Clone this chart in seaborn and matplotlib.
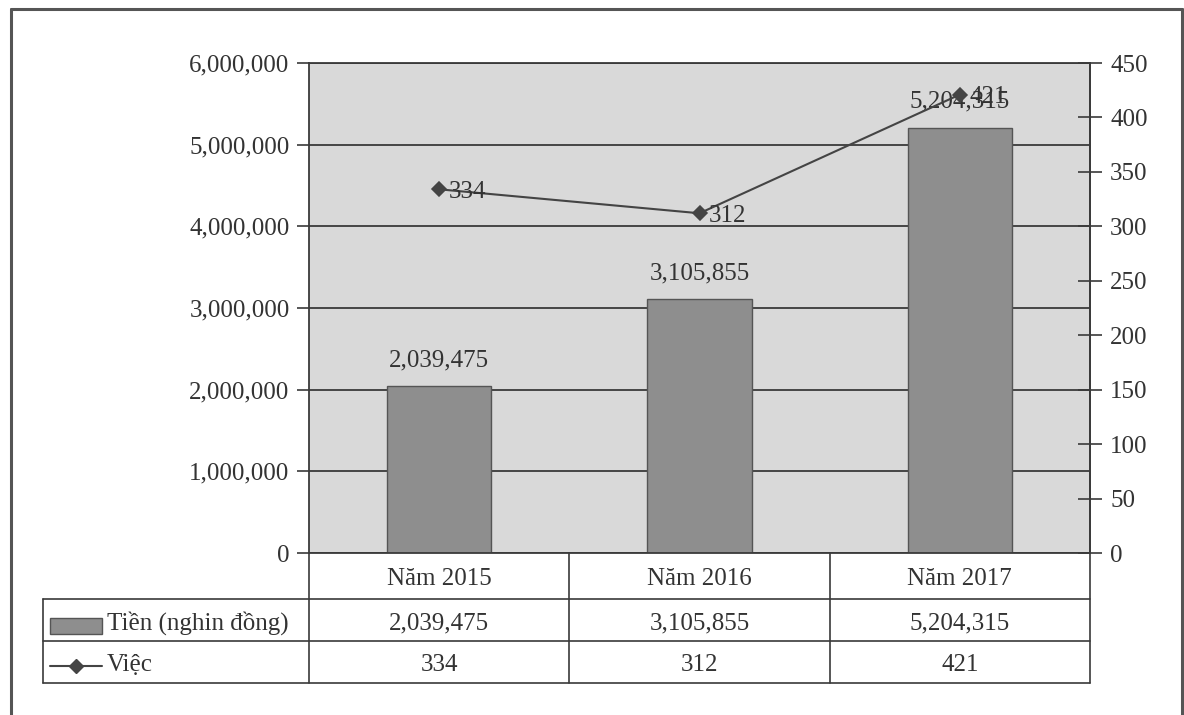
import matplotlib
matplotlib.use("Agg")
import matplotlib.pyplot as plt
import matplotlib.transforms as mtransforms
from matplotlib.lines import Line2D
from matplotlib.patches import Rectangle
import seaborn as sns
import pandas as pd

# data
years = ["Năm 2015", "Năm 2016", "Năm 2017"]
tien = [2039475, 3105855, 5204315]
viec = [334, 312, 421]
series_names = ["Tiền (nghin đồng)", "Việc"]
left_ticks = [0, 1000000, 2000000, 3000000, 4000000, 5000000, 6000000]
right_ticks = [0, 50, 100, 150, 200, 250, 300, 350, 400, 450]

sns.set_style("white")
plt.rcParams["font.family"] = ["Liberation Serif", "DejaVu Serif"]
plt.rcParams["font.size"] = 18

ink = "#3a3a3a"
txt = "#333333"
bg = "#d9d9d9"
bar_col = "#8e8e8e"

df = pd.DataFrame({"year": years, "tien": tien, "viec": viec})

fig = plt.figure(figsize=(11.84, 7.15), dpi=100)
ax = fig.add_axes([309 / 1184, 1 - 553 / 715, 781 / 1184, 490 / 715])
ax.set_facecolor(bg)

sns.barplot(data=df, x="year", y="tien", ax=ax, color=bar_col, saturation=1,
            width=0.4, edgecolor="#555555", linewidth=1)
ax.set_axisbelow(True)
ax.grid(axis="y", color=ink, linewidth=1.3)
ax.set_ylim(0, 6000000)
ax.set_yticks(left_ticks)
ax.set_yticklabels([f"{v:,}" for v in left_ticks], color=txt)
ax.tick_params(axis="y", direction="out", length=9, width=1.2, color=ink, pad=5)
ax.set_xticks([])
ax.set_xlabel("")
ax.set_ylabel("")
for s in ax.spines.values():
    s.set_color(ink)
    s.set_linewidth(1.3)
ax.bar_label(ax.containers[0], labels=[f"{v:,}" for v in tien], padding=11,
             color=txt, fontsize=18)

ax2 = ax.twinx()
sns.pointplot(data=df, x="year", y="viec", ax=ax2, color="#444444",
              markers="D", markersize=7, linewidth=1.5)
ax2.set_ylim(0, 450)
ax2.set_yticks(right_ticks)
ax2.tick_params(axis="y", direction="inout", length=17, width=1.2, color=ink, pad=6,
                labelcolor=txt)
ax2.set_xlabel("")
ax2.set_ylabel("")
ax2.set_xlim(-0.5, len(years) - 0.5)
ax.set_xlim(-0.5, len(years) - 0.5)
for s in ax2.spines.values():
    s.set_visible(False)
ax2.spines["right"].set_visible(True)
ax2.spines["right"].set_color(ink)
ax2.spines["right"].set_linewidth(1.3)
for i, v in enumerate(viec):
    ax2.annotate(str(v), (i, v), xytext=(7, -2), textcoords="offset points",
                 ha="left", va="center", color=txt, fontsize=18)

# data table under the plot
tr = mtransforms.blended_transform_factory(ax.transData, ax.transAxes)
row_y = [0, -46 / 490, -88 / 490, -130 / 490]
left_x = (43 - 309) / 781
lk = dict(color=ink, linewidth=1.2, clip_on=False)
edges = [i - 0.5 for i in range(len(years) + 1)]
for e in edges:
    ax.plot([e, e], [row_y[0], row_y[3]], transform=tr, **lk)
for y in row_y[1:]:
    ax.plot([left_x, 1], [y, y], transform=ax.transAxes, **lk)
ax.plot([left_x, left_x], [row_y[1], row_y[3]], transform=ax.transAxes, **lk)

dy = -3 / 490
mid = [(row_y[k] + row_y[k + 1]) / 2 + dy for k in range(3)]
for i, y in enumerate(years):
    ax.text(i, mid[0], y, transform=tr, ha="center", va="center", color=txt, fontsize=18)
    ax.text(i, mid[1], f"{tien[i]:,}", transform=tr, ha="center", va="center",
            color=txt, fontsize=18)
    ax.text(i, mid[2], f"{viec[i]}", transform=tr, ha="center", va="center",
            color=txt, fontsize=18)

# legend keys inside the table
ax.add_patch(Rectangle(((50 - 309) / 781, (553 - 634) / 490), 52 / 781, 16 / 490,
                       transform=ax.transAxes, facecolor=bar_col, edgecolor="#555555",
                       linewidth=1, clip_on=False))
ax.text((107 - 309) / 781, mid[1], series_names[0],
        transform=ax.transAxes, ha="left", va="center", color=txt, fontsize=18)
ly = (553 - 666) / 490
ax.plot([(50 - 309) / 781, (102 - 309) / 781], [ly, ly], transform=ax.transAxes,
        color="#444444", linewidth=1.5, clip_on=False)
ax.plot([(76 - 309) / 781], [ly], transform=ax.transAxes, marker="D", markersize=7,
        color="#444444", clip_on=False)
ax.text((107 - 309) / 781, mid[2], series_names[1],
        transform=ax.transAxes, ha="left", va="center", color=txt, fontsize=18)

# outer chart frame
fk = dict(color="#555555", linewidth=2.2, transform=fig.transFigure)
x0, x1, yt = 11 / 1184, 1182 / 1184, 1 - 9 / 715
fig.add_artist(Line2D([x0, x1], [yt, yt], **fk))
fig.add_artist(Line2D([x0, x0], [yt, -0.01], **fk))
fig.add_artist(Line2D([x1, x1], [yt, -0.01], **fk))

fig.savefig("out.png", dpi=100, facecolor="white")
